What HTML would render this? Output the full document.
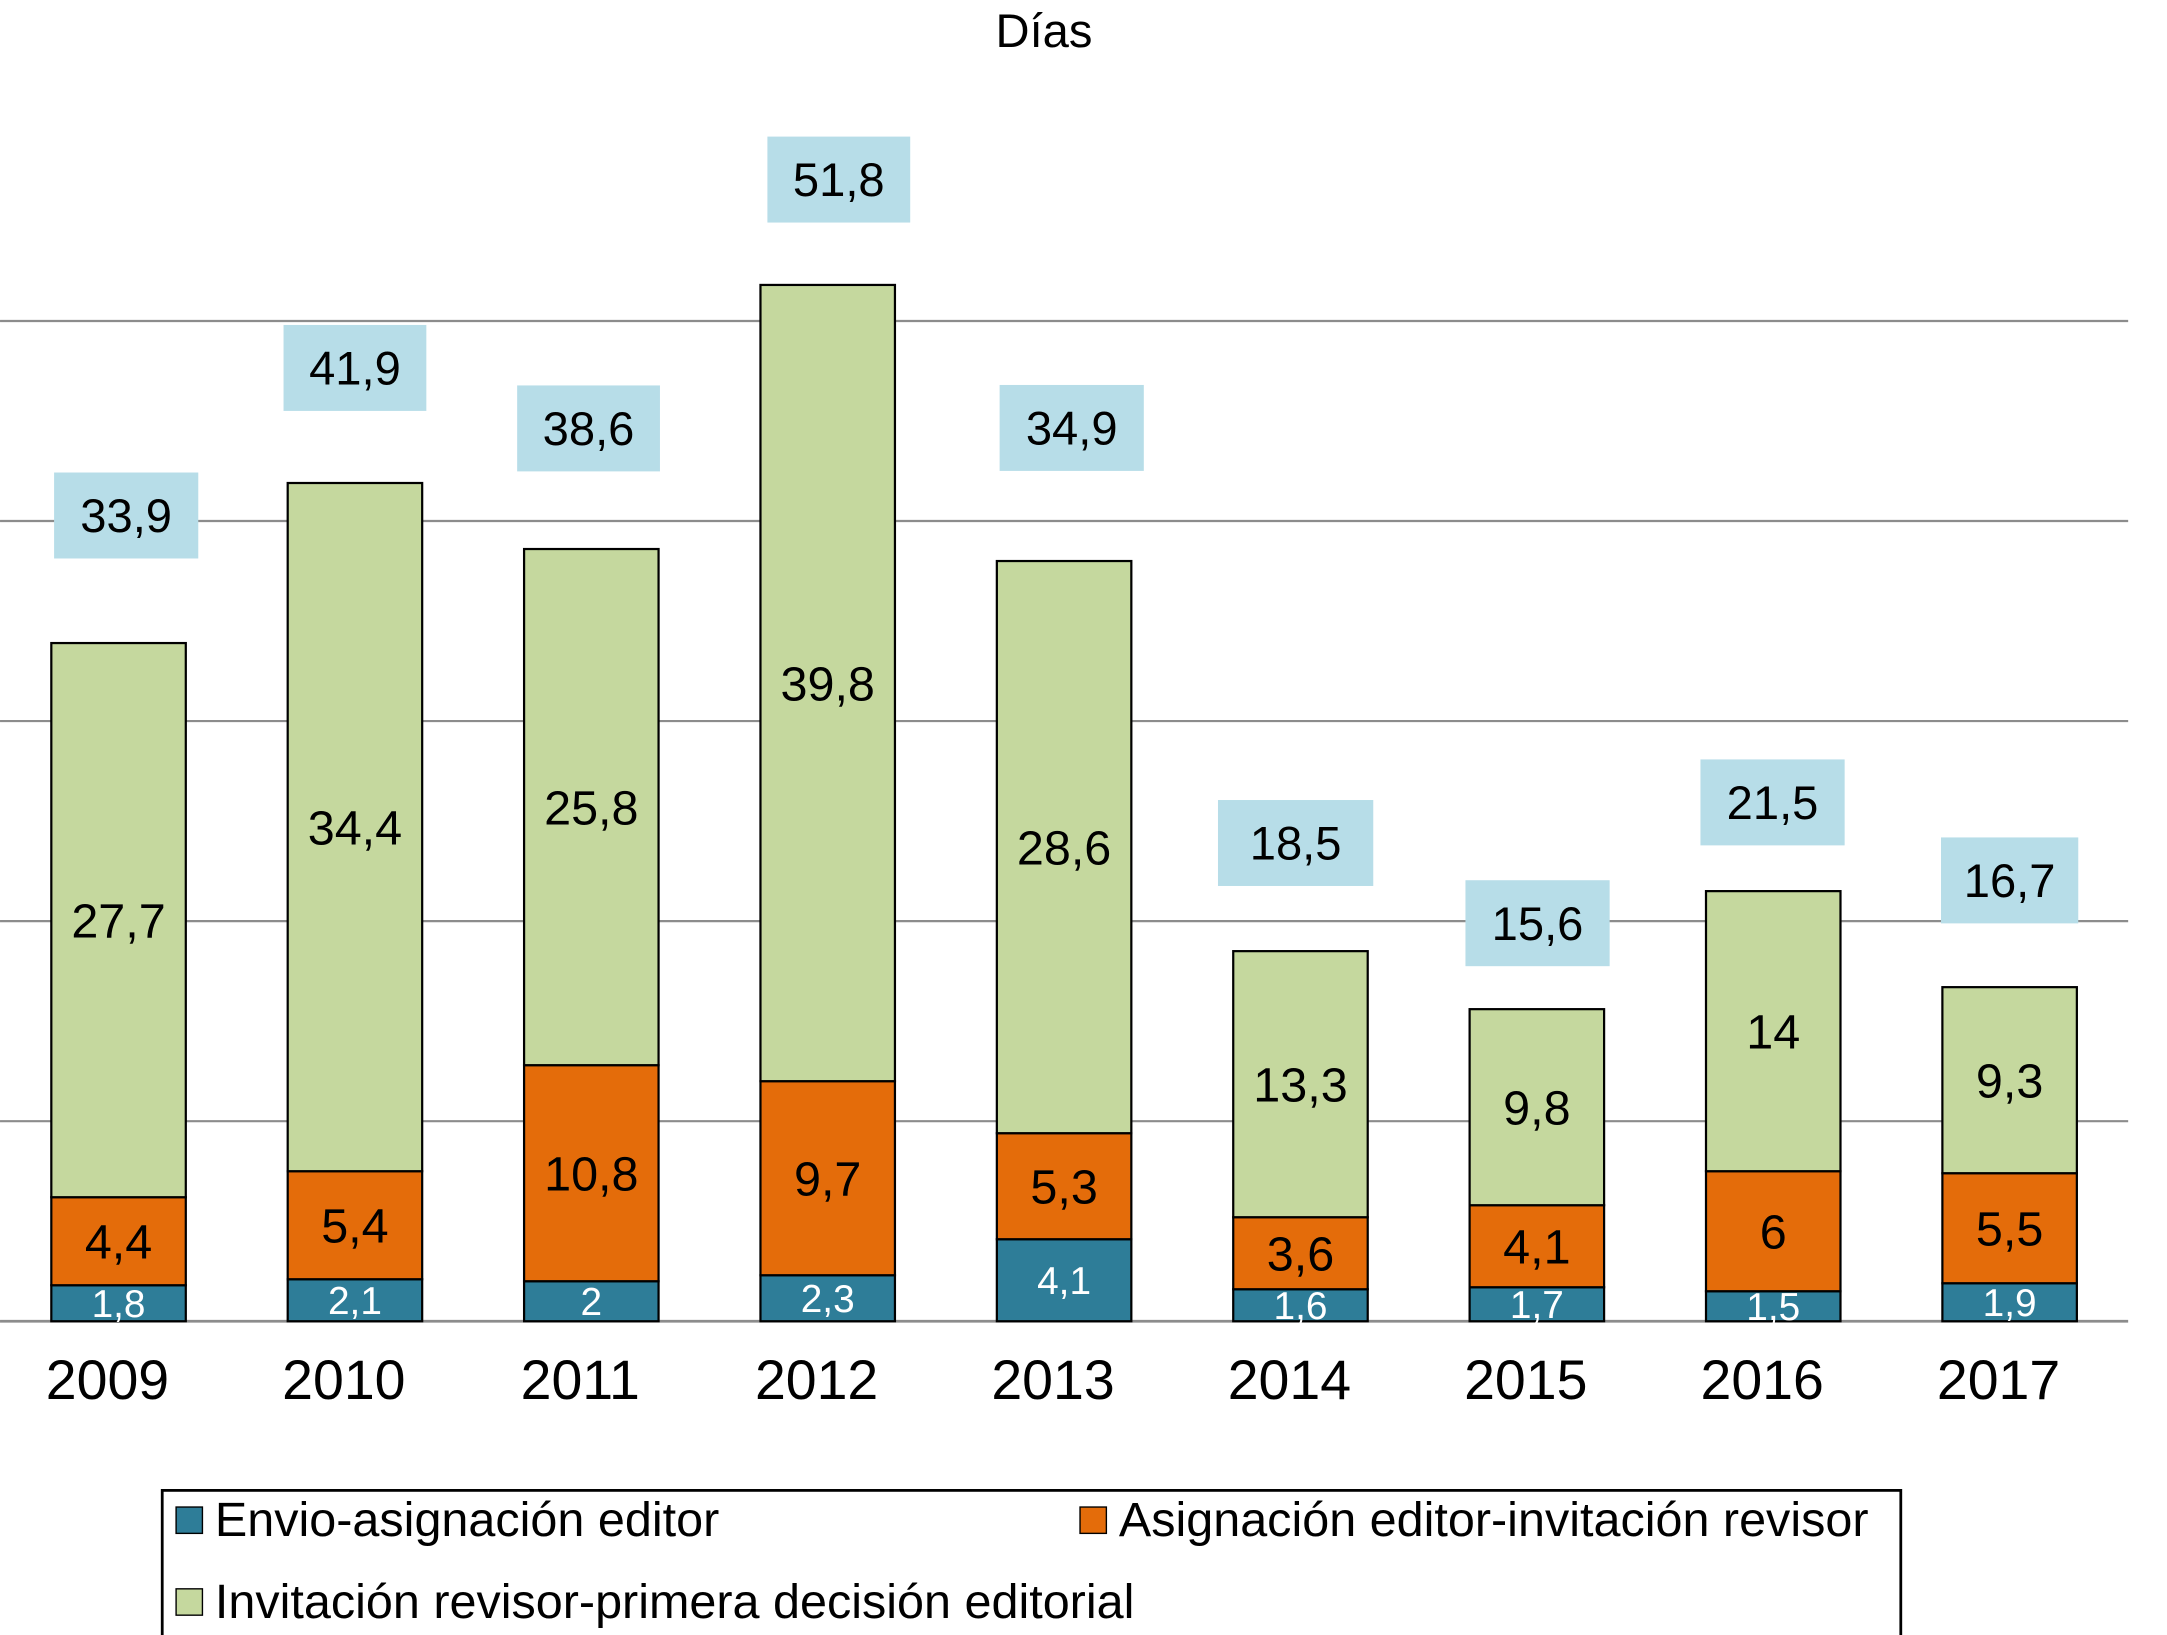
<!DOCTYPE html>
<html><head><meta charset="utf-8"><style>
html,body{margin:0;padding:0;background:#fff;}
svg{display:block;font-family:"Liberation Sans",Arial,sans-serif;}
</style></head><body>
<svg id="chart" width="2167" height="1635" viewBox="0 0 1563 1179.3" xmlns="http://www.w3.org/2000/svg">
<text x="753" y="34" font-size="34" text-anchor="middle" fill="#000">Días</text>
<g id="grid"></g>
<g id="bars"></g>
<g id="legend">
<rect x="117" y="1075" width="1254" height="106" fill="#fff" stroke="#000" stroke-width="2"/>
<g><rect x="127" y="1087" width="19" height="19" fill="#2e7d98" stroke="#000" stroke-width="1"/><text x="155" y="1108" font-size="35">Envio-asignación editor</text></g>
<g><rect x="779" y="1087" width="19" height="19" fill="#e46c0a" stroke="#000" stroke-width="1"/><text x="807" y="1108" font-size="35">Asignación editor-invitación revisor</text></g>
<g><rect x="127" y="1146" width="19" height="19" fill="#c5d89e" stroke="#000" stroke-width="1"/><text x="155" y="1167" font-size="35">Invitación revisor-primera decisión editorial</text></g>
</g>
</svg>
<script>
const years=["2009","2010","2011","2012","2013","2014","2015","2016","2017"];
const envio=[1.8,2.1,2,2.3,4.1,1.6,1.7,1.5,1.9];
const asign=[4.4,5.4,10.8,9.7,5.3,3.6,4.1,6,5.5];
const invit=[27.7,34.4,25.8,39.8,28.6,13.3,9.8,14,9.3];
const totals=[33.9,41.9,38.6,51.8,34.9,18.5,15.6,21.5,16.7];
const gridTicks=[0,10,20,30,40,50];
// label placement (style, not data)
const boxGap=[61,52,56,45,65,47,31,33,46];
const boxDx=[2,-3,-5,5,2,-11,-3,-4,-1];
const boxW=[104,103,103,103,104,112,104,104,99];
const NS="http://www.w3.org/2000/svg";
const y0=953, ppu=14.43;
function yS(v){return y0-v*ppu;}
function xS(i){return 37+i*170.5;}
const bw=97;
function fmt(v){return String(v).replace('.',',');}
function mk(tag,attrs,parent){const e=document.createElementNS(NS,tag);for(const k in attrs)e.setAttribute(k,attrs[k]);parent.appendChild(e);return e;}
const grid=document.getElementById('grid'),bars=document.getElementById('bars');
gridTicks.forEach(t=>{
  const l=mk('line',{x1:0,x2:1535,y1:yS(t),y2:yS(t),stroke:'#8c8c8c','stroke-width':t===0?2:1.6},grid);
  
  
});
const series=[[envio,'#2e7d98','#fff',28,'envio'],[asign,'#e46c0a','#000',35,'asignacion'],[invit,'#c5d89e','#000',35,'invitacion']];
years.forEach((yr,i)=>{
  const g=mk('g',{},bars);
  
  
  let base=0;const x=xS(i);
  series.forEach(s=>{
    const v=s[0][i];
    const r=mk('rect',{x:x,y:yS(base+v),width:bw,height:v*ppu,fill:s[1],stroke:'#000','stroke-width':1.6},g);
    
    
    const t=mk('text',{x:x+bw/2,y:yS(base+v/2)+s[3]*0.36,'font-size':s[3],'text-anchor':'middle',fill:s[2]},g);
    t.textContent=fmt(v);
    
    
    base+=v;
  });
  const top=yS(base);
  const bx=x+boxDx[i];
  const by=top-boxGap[i]-62;
  const b=mk('rect',{x:bx,y:by,width:boxW[i],height:62,fill:'#b7dde8'},g);
  
  
  const tt=mk('text',{x:bx+boxW[i]/2,y:by+43,'font-size':34,'text-anchor':'middle',fill:'#000'},g);
  tt.textContent=fmt(totals[i]);
  
  
  const yl=mk('text',{x:x+bw/2-8,y:1009,'font-size':40,'text-anchor':'middle',fill:'#000'},g);
  yl.textContent=yr;
  
  
});
</script>
</body></html>
